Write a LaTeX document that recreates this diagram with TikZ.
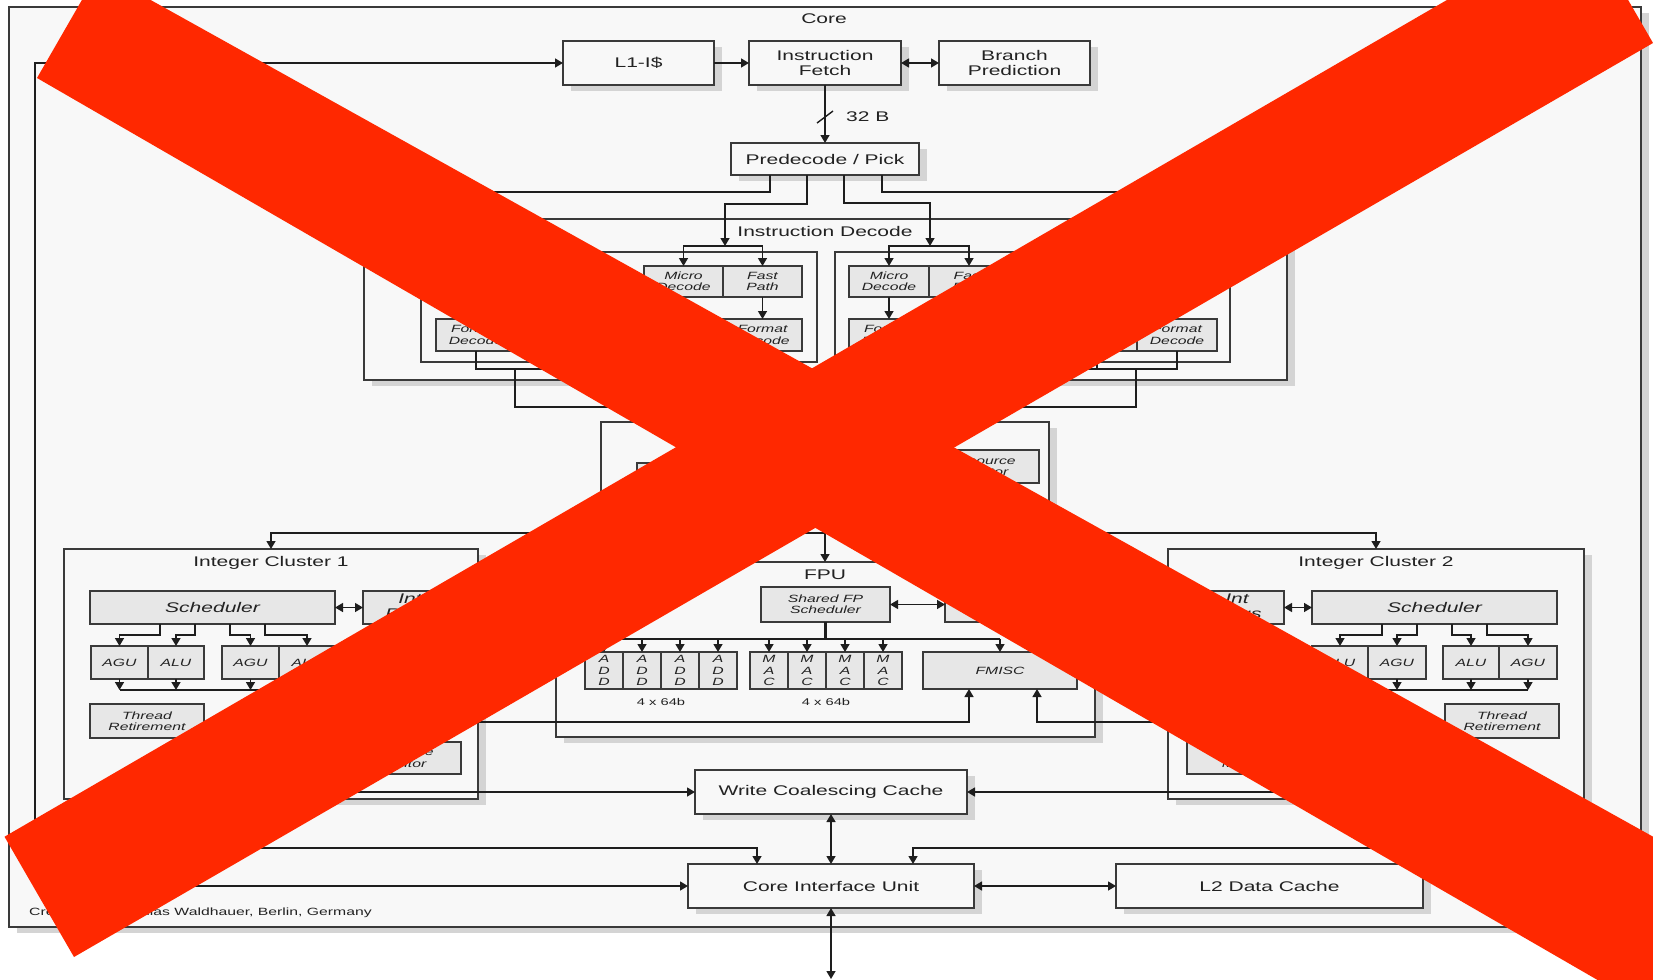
\documentclass[tikz,border=0pt]{standalone}
\usepackage{fontspec}
\newfontfamily\wf[FakeStretch=1.5]{Liberation Sans}
\usetikzlibrary{arrows.meta,shadows}
\definecolor{linec}{HTML}{3A3A3A}
\definecolor{conc}{HTML}{1E1E1E}
\definecolor{boxfill}{HTML}{F8F8F8}
\definecolor{grayfill}{HTML}{E7E7E7}
\definecolor{shadowc}{HTML}{D4D4D4}
\definecolor{textc}{HTML}{222222}
\definecolor{xred}{RGB}{255,40,0}
% \mybox[style]{name}{x1}{y1}{x2}{y2}{text}
\newcommand\mybox[7][]{\node[inner sep=0pt,outer sep=0pt,minimum width={(#5)-(#3)},minimum height={(#6)-(#4)},#1] (#2) at ({((#3)+(#5))/2},{((#4)+(#6))/2}) {#7};}
\tikzset{
 shad/.style={general shadow={fill=shadowc, shadow xshift=8pt, shadow yshift=-6pt}},
 blk/.style={draw=linec, line width=1.4pt, fill=boxfill, shad, text=textc, align=center, font=\wf\fontsize{14}{15}\selectfont},
 frame/.style={draw=linec, line width=1.4pt, fill=boxfill, shad},
 grp/.style={draw=linec, line width=1.4pt, fill=boxfill},
 gbox/.style={draw=linec, line width=1.3pt, fill=grayfill, text=textc, align=center, font=\wf\itshape\fontsize{10.5}{11.3}\selectfont},
 gboxbig/.style={gbox, font=\wf\itshape\fontsize{14}{15}\selectfont},
 lbl/.style={text=textc, font=\wf\fontsize{14}{15}\selectfont, inner sep=0pt},
 con/.style={draw=conc, line width=1.4pt},
 arr/.style={con, -{Triangle[length=8pt,width=9pt]}},
 darr/.style={con, {Triangle[length=8pt,width=9pt]}-{Triangle[length=8pt,width=9pt]}},
}
\begin{document}
\begin{tikzpicture}[x=1pt,y=-1pt]
\useasboundingbox (0,0) rectangle (1653,979);
\fill[white] (0,0) rectangle (1653,979);
% core frame
\mybox[frame]{core}{9}{7}{1641}{927}{}
\node[lbl] (corelbl) at (824,19) {Core};
% top row
\mybox[blk]{l1}{563}{41}{714}{85}{L1-I\$}
\mybox[blk]{ifu}{749}{41}{901}{85}{Instruction\\Fetch}
\mybox[blk]{bp}{939}{41}{1090}{85}{Branch\\Prediction}
\mybox[blk]{pd}{731}{143}{919}{175}{Predecode / Pick}
% instruction decode
\mybox[frame]{id}{364}{219}{1287}{380}{}
\node[lbl] (idlbl) at (825,231) {Instruction Decode};
\mybox[grp]{g1}{421}{252}{817}{362}{}
\mybox[grp]{g2}{835}{252}{1230}{362}{}
\mybox[gbox]{md1}{644}{266}{723}{297}{Micro\\Decode}
\mybox[gbox]{fp1}{723}{266}{802}{297}{Fast\\Path}
\mybox[gbox]{md2}{849}{266}{929}{297}{Micro\\Decode}
\mybox[gbox]{fp2}{929}{266}{1009}{297}{Fast\\Path}
\mybox[gbox]{fa1}{436}{319}{516}{351}{Format\\Decode}
\mybox[gbox]{fb1}{516}{319}{596}{351}{Format\\Decode}
\mybox[gbox]{fc1}{643}{319}{723}{351}{Format\\Decode}
\mybox[gbox]{fd1}{723}{319}{802}{351}{Format\\Decode}
\mybox[gbox]{fa2}{849}{319}{929}{351}{Format\\Decode}
\mybox[gbox]{fb2}{929}{319}{1009}{351}{Format\\Decode}
\mybox[gbox]{fc2}{1057}{319}{1137}{351}{Format\\Decode}
\mybox[gbox]{fd2}{1137}{319}{1217}{351}{Format\\Decode}
% dispatch
\mybox[frame]{dp}{601}{422}{1049}{510}{}
\mybox[gbox]{dq}{637}{463}{740}{497}{Dispatch}
\mybox[gbox]{rmd}{925}{450}{1039}{483}{Resource\\Monitor}
% integer clusters
\mybox[frame]{ic1}{64}{549}{478}{799}{}
\node[lbl] (ic1lbl) at (271,563) {Integer Cluster 1};
\mybox[frame]{ic2}{1168}{549}{1584}{799}{}
\node[lbl] (ic2lbl) at (1376,563) {Integer Cluster 2};
\mybox[gboxbig]{sch1}{90}{591}{335}{624}{Scheduler}
\mybox[gboxbig]{int1}{363}{591}{457}{624}{Int\\Regs}
\mybox[gbox]{agu1a}{91}{646}{148}{679}{AGU}
\mybox[gbox]{alu1a}{148}{646}{204}{679}{ALU}
\mybox[gbox]{agu1b}{222}{646}{279}{679}{AGU}
\mybox[gbox]{alu1b}{279}{646}{335}{679}{ALU}
\mybox[gbox]{tr1}{90}{704}{204}{738}{Thread\\Retirement}
\mybox[gbox]{rm1}{339}{742}{461}{774}{Resource\\Monitor}
\mybox[gboxbig]{sch2}{1312}{591}{1557}{624}{Scheduler}
\mybox[gboxbig]{int2}{1190}{591}{1284}{624}{Int\\Regs}
\mybox[gbox]{alu2a}{1312}{646}{1368}{679}{ALU}
\mybox[gbox]{agu2a}{1368}{646}{1426}{679}{AGU}
\mybox[gbox]{alu2b}{1443}{646}{1499}{679}{ALU}
\mybox[gbox]{agu2b}{1499}{646}{1557}{679}{AGU}
\mybox[gbox]{tr2}{1445}{704}{1559}{738}{Thread\\Retirement}
\mybox[gbox]{rm2}{1187}{742}{1309}{774}{Resource\\Monitor}
% FPU
\mybox[frame]{fpu}{556}{562}{1095}{737}{}
\node[lbl] (fpulbl) at (825,575) {FPU};
\mybox[gbox]{sfs}{761}{587}{890}{622}{Shared FP\\Scheduler}
\mybox[gboxbig]{fpr}{945}{587}{1045}{622}{FP\\Regs}
\foreach \i/\x in {1/585,2/623,3/661,4/699}{\mybox[gbox]{add\i}{\x}{652}{\x+38}{689}{A\\D\\D}}
\foreach \i/\x in {1/750,2/788,3/826,4/864}{\mybox[gbox]{mac\i}{\x}{652}{\x+38}{689}{M\\A\\C}}
\mybox[gbox]{fmisc}{923}{652}{1077}{689}{FMISC}
\node[lbl, font=\wf\fontsize{9.8}{11}\selectfont] (w64a) at (661,702) {4 x 64b};
\node[lbl, font=\wf\fontsize{9.8}{11}\selectfont] (w64b) at (826,702) {4 x 64b};
% bottom
\mybox[blk]{wcc}{695}{770}{967}{814}{Write Coalescing Cache}
\mybox[blk]{ciu}{688}{864}{974}{908}{Core Interface Unit}
\mybox[blk]{l2}{1116}{864}{1423}{908}{L2 Data Cache}
\node[lbl, anchor=west, font=\wf\fontsize{10.5}{12}\selectfont] (credit) at (29,913) {Created by Matthias Waldhauer, Berlin, Germany};
% ---------- connectors ----------
\draw[arr] (l1.east) -- (ifu.west);
\draw[darr] (ifu.east) -- (bp.west);
\draw[arr] (ifu.south) -- (pd.north);
\draw[con] (817,123) -- (833,111);
\node[lbl, anchor=west] (b32) at (846,117) {32 B};
\draw[darr] (ciu.west) -- (35,886) -- (35,63) -- (l1.west);
% predecode outputs
\coordinate (s1) at (725,246);
\coordinate (s2) at (930,246);
\coordinate (hl) at (390,245);
\coordinate (hr) at (1260,245);
\draw[arr] ([xshift=-18pt]pd.south) |- (725,204) -- (s1);
\draw[arr] ([xshift=19pt]pd.south) |- (930,203) -- (s2);
\draw[arr] ([xshift=-55pt]pd.south) |- (390,192) -- (hl);
\draw[arr] ([xshift=57pt]pd.south) |- (1260,192) -- (hr);
\draw[arr] (s1) -| (md1.north);
\draw[arr] (s1) -| (fp1.north);
\draw[arr] (s2) -| (md2.north);
\draw[arr] (s2) -| (fp2.north);
\draw[arr] (md1.south) -- (fc1.north);
\draw[arr] (fp1.south) -- (fd1.north);
\draw[arr] (md2.south) -- (fa2.north);
\draw[arr] (fp2.south) -- (fb2.north);
% format decode outputs
\draw[con] (fa1.south) -- ++(0,18) -| (fd1.south);
\draw[con] (fb1.south) -- ++(0,18);
\draw[con] (fc1.south) -- ++(0,18);
\draw[con] (fa2.south) -- ++(0,18) -| (fd2.south);
\draw[con] (fb2.south) -- ++(0,18);
\draw[con] (fc2.south) -- ++(0,18);
\coordinate (jl) at (515,369);
\coordinate (jr) at (1136,369);
\coordinate (jm) at (825,407);
\draw[con] (jl) |- (jm) -| (jr);
\draw[arr] (jm) -- (dp.north);
% dispatch outputs
\coordinate (jd) at (825,533);
\draw[arr] (dp.south) -- (dp.south |- fpu.north);
\draw[arr] (jd) -| (ic1.north);
\draw[arr] (jd) -| (ic2.north);
% clusters
\draw[darr] (sch1.east) -- (int1.west);
\draw[darr] (int2.east) -- (sch2.west);
\draw[arr] ([xshift=-52.5pt]sch1.south) -- ++(0,11) -| (agu1a.north);
\draw[arr] ([xshift=-17.5pt]sch1.south) -- ++(0,11) -| (alu1a.north);
\draw[arr] ([xshift=17.5pt]sch1.south) -- ++(0,11) -| (agu1b.north);
\draw[arr] ([xshift=52.5pt]sch1.south) -- ++(0,11) -| (alu1b.north);
\draw[arr] ([xshift=-52.5pt]sch2.south) -- ++(0,11) -| (alu2a.north);
\draw[arr] ([xshift=-17.5pt]sch2.south) -- ++(0,11) -| (agu2a.north);
\draw[arr] ([xshift=17.5pt]sch2.south) -- ++(0,11) -| (alu2b.north);
\draw[arr] ([xshift=52.5pt]sch2.south) -- ++(0,11) -| (agu2b.north);
\foreach \n in {agu1a,alu1a,agu1b,alu1b,alu2a,agu2a,alu2b,agu2b}{\draw[arr] (\n.south) -- ++(0,11);}
\coordinate (bl) at (430,690);
\coordinate (br) at (1222,690);
\draw[arr] ([yshift=-11pt]agu1a.south) -- (bl) -- (430,722) -| ([xshift=-31pt]fmisc.south);
\draw[arr] ([yshift=-11pt]agu2b.south) -- (br) -- (1222,722) -| ([xshift=37pt]fmisc.south);
% FPU internals
\draw[darr] (sfs.east) -- (fpr.west);
\draw[con, line width=2.6pt] (sfs.south) -- ++(0,17);
\draw[con] ([yshift=13pt]add1.north) -- ([yshift=13pt]fmisc.north);
\foreach \n in {add1,add2,add3,add4,mac1,mac2,mac3,mac4,fmisc}{\draw[arr] ([yshift=13pt]\n.north) -- (\n.north);}
% to WCC / CIU
\draw[arr] ([xshift=-55pt]rm1.south) |- (wcc.west);
\draw[arr] ([xshift=52pt]rm2.south) |- (wcc.east);
\draw[darr] (wcc.south) -- (ciu.north);
\draw[darr] (ciu.east) -- (l2.west);
\coordinate (bot) at (831,979);
\draw[darr] (ciu.south) -- (bot);
\draw[arr] ([xshift=-71pt]ic1.south) -- ++(0,49) -| ([xshift=-74pt]ciu.north);
\draw[arr] ([xshift=74pt]ic2.south) -- ++(0,49) -| ([xshift=82pt]ciu.north);
% ---------- red X ----------
\begin{scope}
\clip (0,0) rectangle (1653,979);
\fill[xred] (37,78) -- (98.6,-29) -- (1900,974.2) -- (1900,1154.8) -- cycle;
\fill[xred] (1653,43) -- (1582.6,-78.7) -- (4.5,836.7) -- (74,957) -- cycle;
\end{scope}
\end{tikzpicture}
\end{document}
